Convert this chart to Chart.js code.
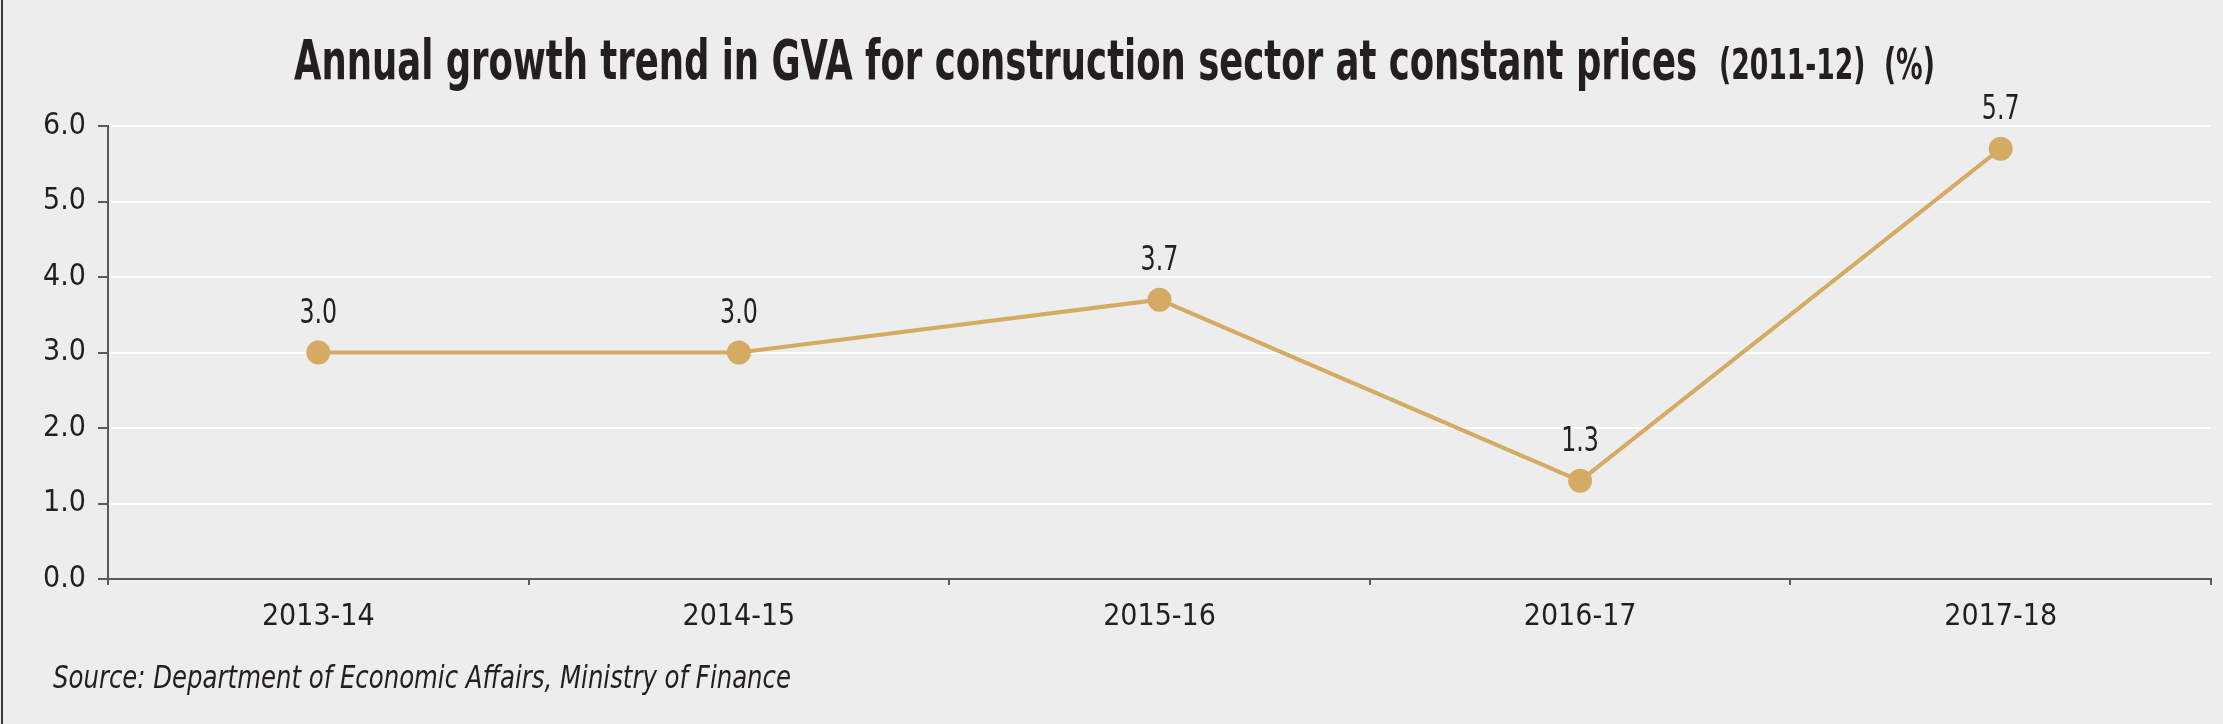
<!DOCTYPE html>
<html>
<head>
<meta charset="utf-8">
<title>Annual growth trend in GVA for construction sector</title>
<script src="https://cdn.jsdelivr.net/npm/chart.js@4"></script>
<style>
  html, body { margin: 0; padding: 0; background: #ededed; overflow: hidden; }
  canvas { display: block; }
</style>
</head>
<body>
<canvas id="lineChart" width="2223" height="724"></canvas>
<script>
const years = ['2013-14', '2014-15', '2015-16', '2016-17', '2017-18'];
const growth = [3.0, 3.0, 3.7, 1.3, 5.7];
const yTicks = [0, 1, 2, 3, 4, 5, 6];

const titleMain = 'Annual growth trend in GVA for construction sector at constant prices';
const titleSub = '(2011-12)  (%)';
const sourceText = 'Source: Department of Economic Affairs, Ministry of Finance';

const condensed = "'Liberation Sans Narrow', 'DejaVu Sans Condensed', 'Arial Narrow', 'Liberation Sans', sans-serif";
const gold = '#d5ab64';
const axisGrey = '#5a5a5a';
const textDark = '#231f20';

// background, left rule, title and source line
const framePlugin = {
  id: 'frame',
  beforeDraw(chart) {
    const c = chart.ctx;
    c.save();
    c.fillStyle = '#ededed';
    c.fillRect(0, 0, chart.width, chart.height);
    c.fillStyle = '#3a3a3a';
    c.fillRect(1, 0, 2, chart.height);
    c.restore();
  },
  afterDraw(chart) {
    const c = chart.ctx;
    c.save();
    c.fillStyle = textDark;
    c.textBaseline = 'alphabetic';

    // title is a heavy condensed face, squeeze it to the reference width
    c.font = 'bold 56px ' + condensed;
    const mainW = c.measureText(titleMain).width;
    c.font = 'bold 42px ' + condensed;
    const subW = c.measureText(titleSub).width;
    const squeeze = 1403 / mainW;
    const gap = 22;
    const total = (mainW + subW) * squeeze + gap;
    const startX = chart.width / 2 - total / 2 + 3;

    c.translate(startX, 79);
    c.scale(squeeze, 1);
    c.font = 'bold 56px ' + condensed;
    c.fillText(titleMain, 0, 0);
    c.font = 'bold 42px ' + condensed;
    c.fillText(titleSub, mainW + gap / squeeze, 0);
    c.setTransform(1, 0, 0, 1, 0, 0);

    // source line, also squeezed to the width it has in the print
    c.font = 'italic 32px ' + condensed;
    const srcW = c.measureText(sourceText).width;
    c.translate(53, 680);
    c.scale(738 / srcW, 1);
    c.textBaseline = 'middle';
    c.textAlign = 'left';
    c.fillText(sourceText, 0, 0);
    c.restore();
  }
};

// value above each point
const valueLabels = {
  id: 'valueLabels',
  afterDatasetsDraw(chart) {
    const c = chart.ctx;
    const meta = chart.getDatasetMeta(0);
    c.save();
    c.font = '33px ' + condensed;
    c.fillStyle = textDark;
    c.textAlign = 'center';
    c.textBaseline = 'middle';
    meta.data.forEach((pt, i) => {
      c.save();
      c.translate(pt.x, pt.y - 38);
      c.scale(0.8, 1);
      c.fillText(growth[i].toFixed(1), 0, 0);
      c.restore();
    });
    c.restore();
  }
};

const ctx = document.getElementById('lineChart').getContext('2d');

new Chart(ctx, {
  type: 'line',
  data: {
    labels: years,
    datasets: [{
      data: growth,
      borderColor: gold,
      backgroundColor: gold,
      borderWidth: 4,
      pointRadius: 12,
      pointBorderWidth: 0,
      pointBackgroundColor: gold,
      tension: 0
    }]
  },
  options: {
    responsive: false,
    devicePixelRatio: 1,
    animation: false,
    events: [],
    layout: {
      padding: { top: 126, left: 0, right: 11, bottom: 0 }
    },
    plugins: {
      legend: { display: false },
      title: { display: false },
      tooltip: { enabled: false }
    },
    scales: {
      x: {
        offset: true,
        border: { color: axisGrey, width: 2 },
        grid: {
          offset: true,
          drawOnChartArea: false,
          drawTicks: true,
          tickLength: 6,
          lineWidth: 2,
          color: c => (c.index === years.length ? 'rgba(0,0,0,0)' : axisGrey)
        },
        ticks: {
          color: textDark,
          padding: 14,
          font: { family: condensed, size: 30 }
        },
        afterFit: scale => { scale.height = 145; }
      },
      y: {
        min: yTicks[0],
        max: yTicks[yTicks.length - 1],
        afterBuildTicks: scale => {
          scale.ticks = yTicks.map(v => ({ value: v }));
        },
        border: { color: axisGrey, width: 2 },
        grid: {
          color: '#ffffff',
          lineWidth: 2,
          tickLength: 10,
          tickColor: axisGrey,
          tickWidth: 2
        },
        ticks: {
          color: textDark,
          padding: 12,
          font: { family: condensed, size: 30 },
          callback: v => Number(v).toFixed(1)
        },
        afterFit: scale => { scale.width = 108; }
      }
    }
  },
  plugins: [framePlugin, valueLabels]
});
</script>
</body>
</html>
